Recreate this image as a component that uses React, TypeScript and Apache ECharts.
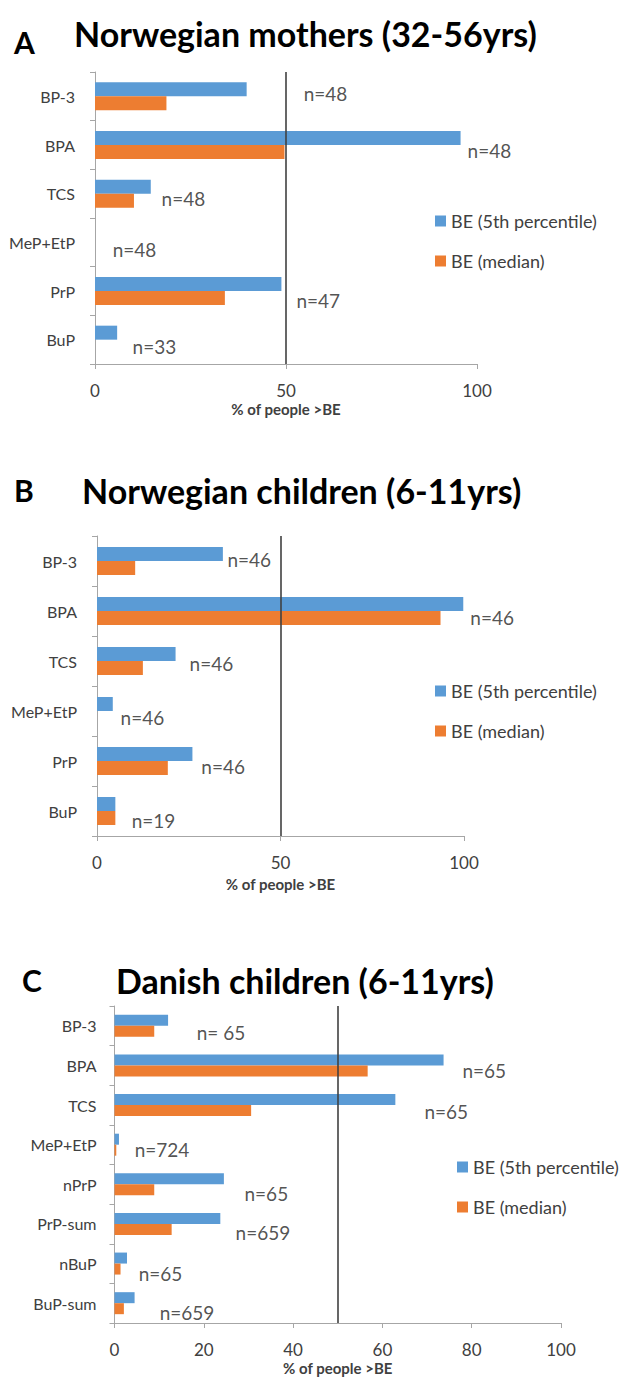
import React, { useEffect, useRef } from "react";
import * as echarts from "echarts";

// Panel A: Norwegian mothers
const catsA = ["BP-3", "BPA", "TCS", "MeP+EtP", "PrP", "BuP"];
const fifthA = [39.7, 95.7, 14.6, 0, 48.8, 5.8];
const medianA = [18.7, 49.6, 10.2, 0, 34, 0];
const nA = ["n=48", "n=48", "n=48", "n=48", "n=47", "n=33"];
const nXA = [54.5, 97.4, 17.3, 4.5, 52.6, 9.7];

// Panel B: Norwegian children
const catsB = ["BP-3", "BPA", "TCS", "MeP+EtP", "PrP", "BuP"];
const fifthB = [34.3, 99.8, 21.4, 4.3, 26, 5];
const medianB = [10.4, 93.6, 12.5, 0, 19.3, 5];
const nB = ["n=46", "n=46", "n=46", "n=46", "n=46", "n=19"];
const nXB = [35.4, 101.6, 25.1, 6.3, 28.3, 9.3];

// Panel C: Danish children
const catsC = ["BP-3", "BPA", "TCS", "MeP+EtP", "nPrP", "PrP-sum", "nBuP", "BuP-sum"];
const fifthC = [12.0, 73.7, 62.9, 1.0, 24.5, 23.7, 2.8, 4.5];
const medianC = [8.9, 56.7, 30.6, 0.4, 8.9, 12.8, 1.35, 2.1];
const nC = ["n= 65", "n=65", "n=65", "n=724", "n=65", "n=659", "n=65", "n=659"];
const nXC = [18.3, 77.8, 69.3, 4.4, 29.0, 27.0, 5.3, 10.0];

const seriesNames = ["BE (5th percentile)", "BE (median)"];
const beLine = 50;

// label vertical nudges (px)
const dyA = [-3, 5, 5, 7, 9, 7];
const dyB = [-2, 6, 2, 6, 5, 9];
const dyC = [7, 5, 6, 5, 9, 9, 10, 9];

const FONT = "Lato, 'Open Sans', sans-serif";
const BLUE = "#5B9BD5";
const ORANGE = "#ED7D31";
const AXIS = "#A6A6A6";

type Panel = {
  cats: string[];
  fifth: number[];
  median: number[];
  n: string[];
  nX: number[];
  dy: number[];
  grid: { left: number; top: number; width: number; height: number };
  interval: number;
  barWidth: number;
  labelMargin: number;
  yLabelMargin: number;
  nameGap: number;
};

const panels: Panel[] = [
  { cats: catsA, fifth: fifthA, median: medianA, n: nA, nX: nXA, dy: dyA,
    grid: { left: 95, top: 72, width: 382, height: 292 }, interval: 50, barWidth: 14,
    labelMargin: 18, yLabelMargin: 20, nameGap: 37 },
  { cats: catsB, fifth: fifthB, median: medianB, n: nB, nX: nXB, dy: dyB,
    grid: { left: 97, top: 536, width: 367, height: 300 }, interval: 50, barWidth: 14,
    labelMargin: 18, yLabelMargin: 20, nameGap: 40 },
  { cats: catsC, fifth: fifthC, median: medianC, n: nC, nX: nXC, dy: dyC,
    grid: { left: 114.5, top: 1006, width: 446.5, height: 317 }, interval: 20, barWidth: 11,
    labelMargin: 18, yLabelMargin: 18, nameGap: 37 },
];

const legendPos = [
  { left: 430, top: 207 },
  { left: 430, top: 677 },
  { left: 452, top: 1153 },
];

function buildOption() {
  const grid: any[] = [];
  const xAxis: any[] = [];
  const yAxis: any[] = [];
  const series: any[] = [];
  panels.forEach((p, i) => {
    grid.push({ ...p.grid, containLabel: false });
    xAxis.push({
      type: "value", gridIndex: i, min: 0, max: 100, interval: p.interval,
      name: "% of people >BE", nameLocation: "middle", nameGap: p.nameGap,
      nameTextStyle: { fontFamily: FONT, fontSize: 15, fontWeight: "bold", color: "#404040" },
      axisLine: { show: true, lineStyle: { color: AXIS, width: 1 } },
      axisTick: { show: true, length: 5, lineStyle: { color: AXIS } },
      axisLabel: { fontFamily: FONT, fontSize: 17, color: "#404040", margin: p.labelMargin },
      splitLine: { show: false },
    });
    yAxis.push({
      type: "category", gridIndex: i, data: p.cats, inverse: true,
      axisLine: { show: true, lineStyle: { color: AXIS, width: 1 } },
      axisTick: { show: true, length: 5, lineStyle: { color: AXIS } },
      axisLabel: { fontFamily: FONT, fontSize: 16, color: "#404040", margin: p.yLabelMargin },
    });
    series.push({
      type: "bar", name: seriesNames[0], xAxisIndex: i, yAxisIndex: i, data: p.fifth,
      barWidth: p.barWidth, barGap: "0%", itemStyle: { color: BLUE },
      markLine: {
        silent: true, symbol: ["none", "none"], label: { show: false },
        lineStyle: { color: "#404040", width: 1.6, type: "solid" },
        data: [{ xAxis: beLine }],
      },
    });
    series.push({
      type: "bar", name: seriesNames[1], xAxisIndex: i, yAxisIndex: i, data: p.median,
      barWidth: p.barWidth, barGap: "0%", itemStyle: { color: ORANGE },
    });
    series.push({
      type: "scatter", xAxisIndex: i, yAxisIndex: i, clip: false, silent: true,
      symbolSize: 1, itemStyle: { color: "rgba(0,0,0,0)" },
      data: p.cats.map((c, k) => ({
        value: [p.nX[k], c],
        label: {
          show: true, position: "right", distance: 0, offset: [0, p.dy[k]],
          formatter: p.n[k], fontFamily: FONT, fontSize: 19, color: "#262626",
        },
      })),
    });
  });

  const legend = legendPos.map((lp) => ({
    data: seriesNames, orient: "vertical", left: lp.left, top: lp.top,
    itemWidth: 11, itemHeight: 11, itemGap: 22, icon: "rect",
    textStyle: { fontFamily: FONT, fontSize: 18, color: "#404040" },
    selectedMode: false,
  }));

  const bigTitle = { fontFamily: FONT, fontSize: 34, fontWeight: "bold", color: "#000" };
  const letter = { ...bigTitle, fontSize: 30 };
  const title = [
    { text: "A", left: 14, top: 27, padding: 0, textStyle: letter },
    { text: "Norwegian mothers (32-56yrs)", left: 74, top: 16, padding: 0, textStyle: bigTitle },
    { text: "B", left: 14, top: 475, padding: 0, textStyle: letter },
    { text: "Norwegian children (6-11yrs)", left: 82, top: 473, padding: 0, textStyle: bigTitle },
    { text: "C", left: 22, top: 965, padding: 0, textStyle: letter },
    { text: "Danish children (6-11yrs)", left: 116, top: 963, padding: 0, textStyle: bigTitle },
  ];

  return { animation: false, backgroundColor: "#fff", title, legend, grid, xAxis, yAxis, series };
}

export default function App() {
  const ref = useRef<HTMLDivElement>(null);
  useEffect(() => {
    if (!ref.current) return;
    const chart = echarts.init(ref.current, undefined, { renderer: "svg" });
    chart.setOption(buildOption() as any);
    return () => chart.dispose();
  }, []);
  return (
    <div
      ref={ref}
      style={{ position: "absolute", left: 0, top: 0, width: 630, height: 1386, background: "#fff" }}
    />
  );
}
